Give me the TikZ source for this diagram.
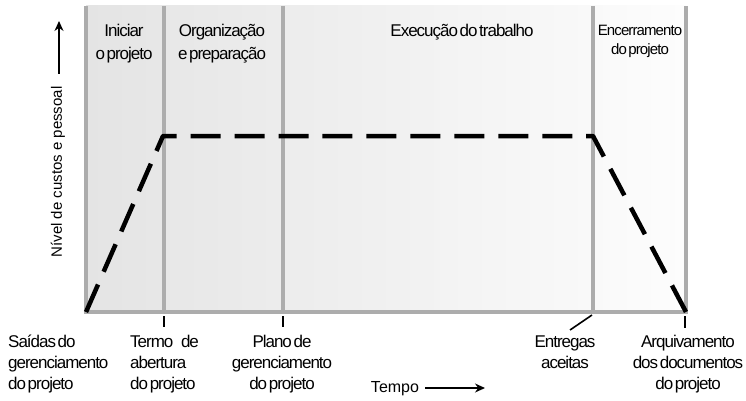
\documentclass[tikz,border=0pt]{standalone}
\usepackage{fontspec}
\setmainfont{Liberation Sans}
\newfontfamily\condf[LetterSpace=-6,WordSpace={0.45,0.3,0.3}]{Liberation Sans}
\usetikzlibrary{arrows.meta}
\definecolor{phaseline}{RGB}{172,172,172}
\definecolor{shadeL}{RGB}{228,228,228}
\definecolor{shadeR}{RGB}{253,253,253}
\begin{document}
\begin{tikzpicture}[x=1pt,y=-1pt,
  phaseln/.style={draw=phaseline,line width=4pt},
  dashln/.style={draw=black,line width=4.5pt,dash pattern=on 30pt off 13.95pt,line join=round},
  tickln/.style={draw=black,line width=1.6pt},
  toplab/.style={inner sep=0pt,align=center,font=\condf\fontsize{17}{23}\selectfont},
  botlab/.style={inner sep=0pt,font=\condf\fontsize{17}{21}\selectfont},
  axlab/.style={inner sep=0pt,font=\fontsize{15}{18}\selectfont},
  axarrow/.style={draw=black,line width=1.3pt,-{Stealth[length=10pt,width=9pt]}}]
\useasboundingbox (0,0) rectangle (746,401);
% background shading
\shade[left color=shadeL,right color=shadeR] (86,6) rectangle (686,312);
% phase boundaries
\coordinate (t0) at (86,6);   \coordinate (b0) at (86,312);
\coordinate (t1) at (164,6);  \coordinate (b1) at (164,312);
\coordinate (t2) at (283,6);  \coordinate (b2) at (283,312);
\coordinate (t3) at (593,6);  \coordinate (b3) at (593,312);
\coordinate (t4) at (686,6);  \coordinate (b4) at (686,312);
\foreach \i in {0,...,4} { \draw[phaseln] (t\i) -- (b\i); }
\draw[phaseln] ([xshift=-2pt]b0) -- ([xshift=2pt]b4);
% cost/staffing curve
\coordinate (c1) at (163,136);
\coordinate (c2) at (593,136);
\draw[dashln] (b0) -- (c1) -- (c2) -- (b4);
% phase titles (base anchor = baseline of last line)
\node[toplab,anchor=base] (p1) at (124,60) {Iniciar\\o projeto};
\node[toplab,anchor=base] (p2) at (222,60) {Organização\\e preparação};
\node[toplab,anchor=base] (p3) at (462,37) {Execução do trabalho};
\node[toplab,anchor=base,font=\condf\fontsize{15}{19}\selectfont] (p4) at (640,55) {Encerramento\\do projeto};
% milestone labels
\node[botlab,align=left,anchor=base west] (m0) at (8,389) {Saídas do\\gerenciamento\\do projeto};
\node[botlab,align=left,anchor=base west] (m1) at (130,389) {Termo\hspace{6pt} de\\abertura\\do projeto};
\node[botlab,align=center,anchor=base] (m2) at (282,389) {Plano de\\gerenciamento\\do projeto};
\node[botlab,align=center,anchor=base] (m3) at (565,368) {Entregas\\aceitas};
\node[botlab,align=center,anchor=base] (m4) at (688,389) {Arquivamento\\dos documentos\\do projeto};
% ticks
\coordinate (k1a) at (164,316); \coordinate (k1b) at (164,327);
\coordinate (k2a) at (283,316); \coordinate (k2b) at (283,327);
\coordinate (k3a) at (592,315); \coordinate (k3b) at (570,330);
\coordinate (k4a) at (685,316); \coordinate (k4b) at (685,328);
\draw[tickln] (k1a) -- (k1b);
\draw[tickln] (k2a) -- (k2b);
\draw[tickln] (k3a) -- (k3b);
\draw[tickln] (k4a) -- (k4b);
% axes labels
\node[axlab,rotate=90] (ylab) at (58,172) {Nível de custos e pessoal};
\coordinate (ya) at (59,74); \coordinate (yb) at (59,21);
\draw[axarrow] (ya) -- (yb);
\node[axlab,anchor=base,font=\fontsize{16}{18}\selectfont] (xlab) at (395,392) {Tempo};
\coordinate (xa) at (425,388); \coordinate (xb) at (485,388);
\draw[axarrow] (xa) -- (xb);
\end{tikzpicture}
\end{document}
